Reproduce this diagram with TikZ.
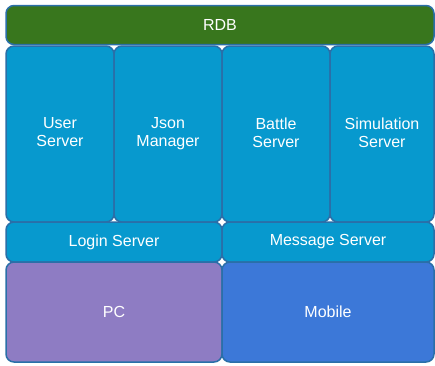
\documentclass[tikz,border=0pt]{standalone}
\usepackage{fontspec}
\setsansfont{Liberation Sans}
\definecolor{rdbgreen}{HTML}{38761D}
\definecolor{srvblue}{HTML}{0799CE}
\definecolor{edgeblue}{HTML}{2A6FA8}
\definecolor{pcpurple}{HTML}{8E7CC3}
\definecolor{mobblue}{HTML}{3C78D8}
\begin{document}
\begin{tikzpicture}[x=1pt, y=-1pt, font=\sffamily\fontsize{16}{18}\selectfont,
    blk/.style={draw=edgeblue, line width=1.5pt, rounded corners=8pt,
        text=white, align=center, inner sep=0pt, outer sep=0pt},
    srv/.style={blk, fill=srvblue, minimum height=176pt, text depth=3.4pt}]

        \useasboundingbox (0,0) rectangle (435,365);

        % ==========================================
        % 1. Database in alto
        % ==========================================
        \node[blk, fill=rdbgreen, minimum width=428pt, minimum height=39pt] (rdb) at (220, 25) {RDB};

        % ==========================================
        % 2. Le quattro colonne dei server
        % ==========================================
        \node[srv, minimum width=108pt] (user) at (60, 134) {User\\Server};
        \node[srv, minimum width=108pt] (json) at (168, 134) {Json\\Manager};
        \node[srv, minimum width=108pt] (battle) at (276, 134) {Battle\\Server};
        \node[srv, minimum width=104pt] (sim) at (382, 134) {Simulation\\Server};

        % ==========================================
        % 3. Server di accesso e client
        % ==========================================
        \node[blk, fill=srvblue, minimum width=216pt, minimum height=40pt] (login) at (114, 242) {Login Server};
        \node[blk, fill=srvblue, minimum width=212pt, minimum height=40pt] (msg) at (328, 242) {Message Server};

        \node[blk, fill=pcpurple, minimum width=216pt, minimum height=100pt] (pc) at (114, 312) {PC};
        \node[blk, fill=mobblue, minimum width=212pt, minimum height=100pt] (mobile) at (328, 312) {Mobile};

    \end{tikzpicture}
\end{document}
